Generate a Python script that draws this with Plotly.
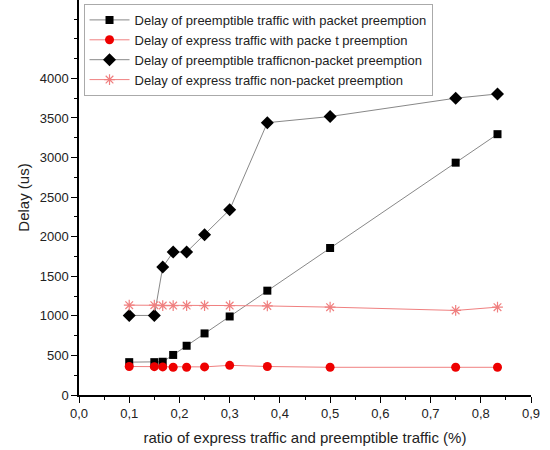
import plotly.graph_objects as go

x = [0.1, 0.15, 0.1667, 0.1875, 0.2143, 0.25, 0.3, 0.375, 0.5, 0.75, 0.8333]
pre_with = [415, 415, 420, 506, 622, 778, 992, 1318, 1857, 2935, 3295]
exp_with = [360, 358, 355, 350, 350, 355, 375, 360, 350, 350, 350]
pre_non = [1005, 1005, 1616, 1806, 1806, 2025, 2340, 3440, 3518, 3750, 3803]
exp_non = [1135, 1135, 1130, 1130, 1130, 1130, 1130, 1125, 1110, 1068, 1110]

names = [
    "Delay of preemptible traffic with packet preemption",
    "Delay of express traffic with packe t preemption",
    "Delay of preemptible trafficnon-packet preemption",
    "Delay of express traffic non-packet preemption",
]

xtickvals = [0.0, 0.1, 0.2, 0.3, 0.4, 0.5, 0.6, 0.7, 0.8, 0.9]
xticktext = ["0,0", "0,1", "0,2", "0,3", "0,4", "0,5", "0,6", "0,7", "0,8", "0,9"]
ytickvals = [0, 500, 1000, 1500, 2000, 2500, 3000, 3500, 4000]

fig = go.Figure()
fig.add_trace(go.Scatter(x=x, y=pre_with, name=names[0], mode="lines+markers",
                         line=dict(color="#888888", width=1),
                         marker=dict(symbol="square", size=8, color="black")))
fig.add_trace(go.Scatter(x=x, y=exp_with, name=names[1], mode="lines+markers",
                         line=dict(color="#f08080", width=1),
                         marker=dict(symbol="circle", size=9, color="#ee0000")))
fig.add_trace(go.Scatter(x=x, y=pre_non, name=names[2], mode="lines+markers",
                         line=dict(color="#888888", width=1),
                         marker=dict(symbol="diamond", size=10, color="black")))
fig.add_trace(go.Scatter(x=x, y=exp_non, name=names[3], mode="lines+markers",
                         line=dict(color="#f08080", width=1),
                         marker=dict(symbol="asterisk-open", size=9,
                                     line=dict(color="#f06060", width=1.2))))

fig.update_layout(
    width=550, height=450,
    margin=dict(l=79, r=19, t=0, b=55),
    paper_bgcolor="white", plot_bgcolor="white",
    font=dict(family="Liberation Sans, Arial, sans-serif", color="#222", size=12),
    showlegend=True,
    legend=dict(x=0.01, y=0.99, xanchor="left", yanchor="top",
                bgcolor="white", bordercolor="#aaa", borderwidth=1,
                font=dict(size=13), tracegroupgap=0, itemwidth=40),
    xaxis=dict(range=[0, 0.9], tickvals=xtickvals, ticktext=xticktext,
               showgrid=False, zeroline=False, showline=True, linecolor="black",
               linewidth=1.5, ticks="outside", ticklen=6, tickcolor="black",
               minor=dict(ticks="outside", ticklen=3, dtick=0.05, tick0=0, tickcolor="black"),
               title=dict(text="ratio of express traffic and preemptible traffic (%)",
                          font=dict(size=15), standoff=12),
               tickfont=dict(size=13)),
    yaxis=dict(range=[0, 4990], tickvals=ytickvals,
               showgrid=False, zeroline=False, showline=True, linecolor="black",
               linewidth=1.5, ticks="outside", ticklen=6, tickcolor="black",
               minor=dict(ticks="outside", ticklen=3, dtick=250, tick0=0, tickcolor="black"),
               title=dict(text="Delay (us)", font=dict(size=15), standoff=6),
               tickfont=dict(size=13)),
)

fig.write_html("out.html")
